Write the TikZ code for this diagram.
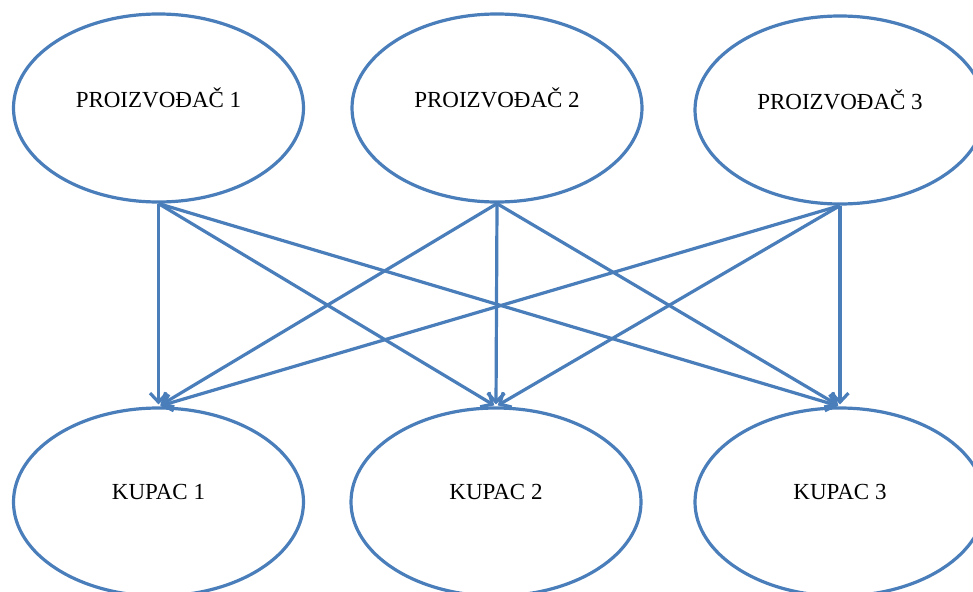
\documentclass[tikz,border=0pt]{standalone}
\usepackage{fontspec}
\setmainfont{Liberation Serif}
\usetikzlibrary{shapes.geometric,arrows.meta}
\definecolor{officeblue}{HTML}{4A7EBB}
\begin{document}
\begin{tikzpicture}[x=1pt,y=-1pt,
  oval/.style={ellipse,draw=officeblue,line width=3.2pt,minimum width=290pt,minimum height=188pt,inner sep=0pt},
  lbl/.style={font=\fontsize{23}{26}\selectfont,yshift=10pt},
  flow/.style={draw=officeblue,line width=3.2pt,shorten >=2pt,-{Straight Barb[length=9pt,width=17pt]}}]
\useasboundingbox (0,0) rectangle (973,591);
\fill[white] (0,0) rectangle (973,591);
\clip (0,0) rectangle (973,591);
\node[oval,label={[lbl]center:PROIZVOĐAČ 1}] (p1) at (158.5,108) {};
\node[oval,label={[lbl]center:PROIZVOĐAČ 2}] (p2) at (497,108) {};
\node[oval,label={[lbl]center:PROIZVOĐAČ 3}] (p3) at (840,110) {};
\node[oval,label={[lbl]center:KUPAC 1}] (k1) at (158.5,502) {};
\node[oval,label={[lbl]center:KUPAC 2}] (k2) at (496,502) {};
\node[oval,label={[lbl]center:KUPAC 3}] (k3) at (840,502) {};
\foreach \p in {p1,p2,p3}{
  \foreach \k in {k1,k2,k3}{
    \draw[flow] (\p.south) -- (\k.north);
  }
}
\end{tikzpicture}
\end{document}
